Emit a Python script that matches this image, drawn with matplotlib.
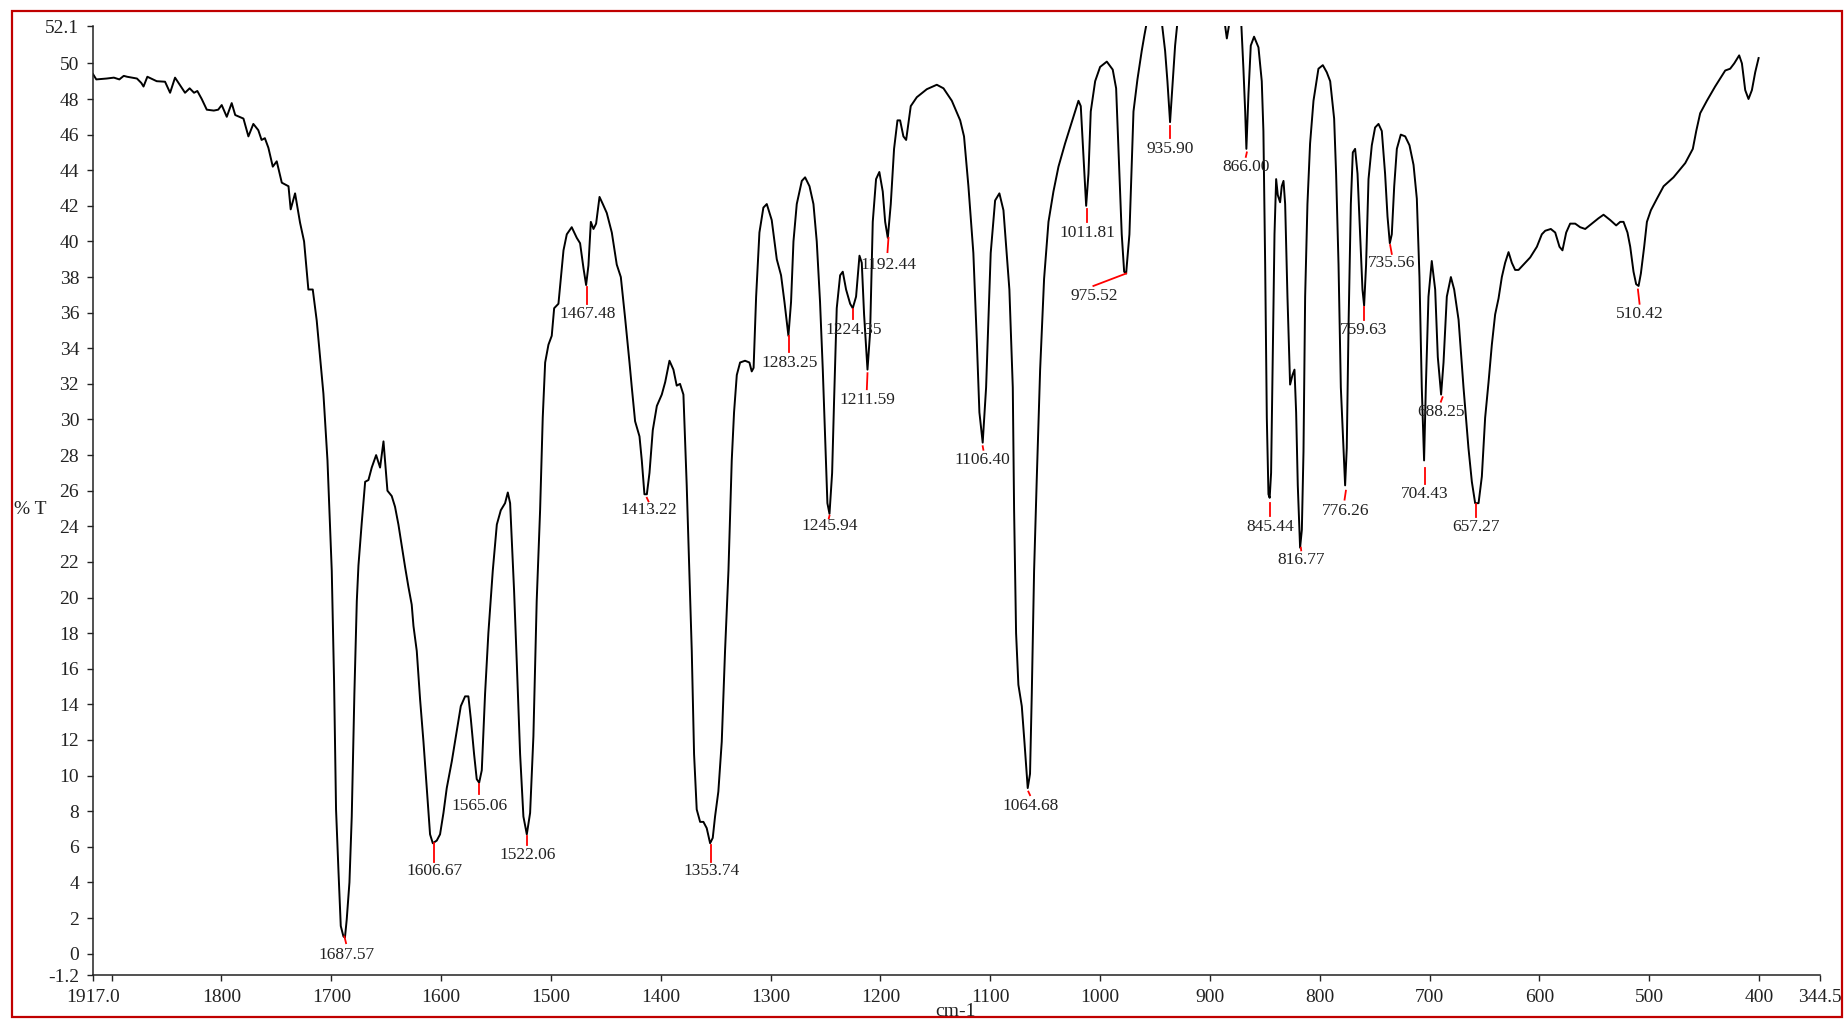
import matplotlib
matplotlib.use("Agg")
import matplotlib.pyplot as plt
from matplotlib.patches import Rectangle

# IR spectrum (wavenumber in cm-1, transmittance in %T)
wavenumber = [
    1917.0, 1914, 1904.5, 1898, 1893, 1889, 1886, 1877, 1873, 1871, 1867.5, 1859, 1851.4, 1846.8,
    1842.3, 1838, 1833.2, 1829, 1825, 1822, 1818, 1813.4, 1807, 1803, 1799.8, 1795.2, 1790.7,
    1787.5, 1780, 1775.5, 1771, 1766.5, 1763.5, 1760.5, 1757.3, 1753.3, 1749.7, 1745.1, 1739,
    1737, 1733, 1728.5, 1724.8, 1720.9, 1716.9, 1713.3, 1710.2, 1707.2, 1703.5, 1701.7, 1699.6,
    1697.5, 1695.7, 1693.5, 1691.4, 1689.0, 1687.6, 1686.0, 1683.5, 1681.4, 1679.0, 1676.8,
    1675.3, 1672.3, 1669.2, 1666.2, 1663.2, 1659.2, 1655.6, 1652.5, 1648.9, 1645, 1642, 1638.9,
    1635.9, 1632.8, 1629.8, 1626.8, 1625.2, 1622.2, 1619.2, 1616.1, 1613.1, 1610.1, 1607.6, 1604,
    1601, 1597.9, 1594.9, 1590.3, 1585.8, 1582.1, 1578.2, 1575.2, 1573, 1570, 1567.6, 1565.4,
    1563, 1560, 1557, 1553, 1549.3, 1545.7, 1541.8, 1539.3, 1537.2, 1533.6, 1531.1, 1528.1,
    1525.1, 1522.0, 1519, 1516, 1513, 1509.9, 1507.5, 1505.3, 1502.3, 1499.3, 1497.1, 1493.2,
    1488.6, 1485.6, 1481.1, 1476.5, 1473.5, 1470.4, 1468, 1465.9, 1463.7, 1461.3, 1458.9, 1455.8,
    1452.8, 1449.2, 1444.6, 1440.1, 1436.4, 1432.5, 1428.5, 1426.4, 1423.4, 1419.4, 1417.3,
    1414.9, 1412.7, 1410.3, 1407.3, 1403.6, 1399.1, 1396, 1392.1, 1388.5, 1385.5, 1382.5, 1379.4,
    1376.4, 1374, 1371.8, 1369.7, 1367.3, 1364.2, 1361.2, 1358.2, 1355.1, 1352.7, 1350.6, 1347.6,
    1344.5, 1341.5, 1338.4, 1335.4, 1333.3, 1330.8, 1327.8, 1323.3, 1319.3, 1317.2, 1315.5,
    1313.2, 1310.2, 1306.6, 1303.5, 1299, 1294.4, 1290.5, 1287.4, 1283.8, 1281.4, 1279.2, 1276.2,
    1271.6, 1268.6, 1264.6, 1261, 1258, 1255, 1252.5, 1250.4, 1248.3, 1246.4, 1244, 1242.2,
    1239.8, 1236.7, 1234.3, 1231.3, 1227.6, 1225.2, 1222.2, 1219.1, 1217, 1214.9, 1211.8, 1209.4,
    1207, 1204, 1201, 1197.9, 1195.7, 1193.3, 1190.6, 1187.6, 1184.5, 1182.1, 1179.1, 1176.6,
    1172.4, 1166.9, 1157.8, 1148.7, 1142.6, 1135, 1127.4, 1123.9, 1119.9, 1115.4, 1112.3, 1109.9,
    1106.9, 1103.8, 1099.6, 1095.6, 1091.7, 1088.0, 1082.6, 1079.5, 1078.3, 1076.5, 1074.4,
    1071.3, 1068.9, 1065.9, 1063.8, 1062.2, 1060.1, 1057.7, 1054.6, 1051, 1047, 1042.5, 1037.9,
    1031.9, 1025.8, 1019.7, 1017.6, 1015.2, 1012.7, 1010.6, 1008.5, 1004.5, 1000, 993.9, 988.5,
    985.4, 982.4, 980.3, 978.1, 976.3, 973.3, 969.6, 966, 962.1, 959.6, 957.5, 953, 947, 943.8,
    940.8, 938.7, 936.3, 933.8, 931.7, 929.6, 920, 900, 887, 884.6, 882.2, 878, 871.5, 869.5,
    867.9, 866.8, 864.9, 862.8, 859.8, 855.8, 852.8, 851.3, 849.7, 848.2, 846.7, 845.6, 844.3,
    842.8, 841.2, 839.7, 838.2, 836.1, 834.6, 833.0, 831.5, 829.4, 827, 824.8, 823, 821.5, 820,
    817.9, 816.3, 814.8, 813.3, 811.2, 808.8, 805.7, 801.2, 797.2, 793.6, 790.5, 786.9, 785.1,
    782.9, 780.8, 778.4, 776.9, 775.4, 773.8, 771.7, 769.9, 767.8, 765.6, 763.2, 761.1, 759.6,
    757.8, 755.6, 752.6, 749.6, 746.5, 743.5, 740.5, 738.3, 736.2, 734.4, 732.2, 729.8, 726.2,
    722.2, 718.3, 714.6, 711.6, 709.2, 707.1, 705.0, 703.4, 701, 698, 694.9, 692.5, 689.5, 687.3,
    684.3, 680.6, 677.6, 673.6, 669.1, 664.6, 661.5, 658.5, 655.4, 652.4, 649.4, 646.3, 643.3,
    640.3, 637.2, 634.2, 631.2, 628.1, 625.1, 622.1, 619, 614.5, 608.4, 602.3, 597.8, 594.7,
    589.6, 585.6, 581.7, 579, 575.6, 572, 567.4, 562.9, 558.3, 552.2, 546.2, 541.6, 535.5, 530.1,
    526.4, 523.4, 519.8, 517.3, 514.3, 511.9, 509.7, 507.6, 504.6, 502.1, 498.5, 493.0, 486.9,
    477.9, 467.2, 460.3, 457.2, 453.6, 447.5, 440, 433.8, 430.8, 426.3, 422.6, 418.1, 415.6,
    412.6, 409.6, 406.5, 403.5, 400.4,
]
transmittance = [
    49.4, 49.1, 49.15, 49.2, 49.1, 49.3, 49.25, 49.15, 48.9, 48.7, 49.25, 49.0, 48.97, 48.35,
    49.2, 48.8, 48.35, 48.6, 48.35, 48.45, 48.0, 47.4, 47.35, 47.4, 47.66, 47.0, 47.77,
    47.1, 46.9, 45.9, 46.6, 46.25, 45.7, 45.8, 45.26, 44.2, 44.5, 43.3, 43.1,
    41.8, 42.7, 41.06, 40.0, 37.3, 37.3, 35.56, 33.5, 31.45, 27.7, 24.9, 21.5,
    15.3, 8.1, 4.65, 1.55, 0.97, 0.9, 1.9, 4.0, 7.7, 14.6, 19.8,
    21.8, 24.2, 26.5, 26.6, 27.3, 28.0, 27.3, 28.77, 26.0, 25.7, 25.1, 24.1,
    22.9, 21.7, 20.6, 19.6, 18.4, 17.0, 14.3, 11.9, 9.3, 6.7, 6.2, 6.35,
    6.7, 7.9, 9.3, 10.8, 12.5, 13.9, 14.45, 14.45, 13.2, 11.2, 9.8, 9.6,
    10.3, 14.6, 18.0, 21.5, 24.1, 24.9, 25.3, 25.9, 25.3, 20.4, 16.3, 11.2,
    7.7, 6.7, 7.9, 12.2, 19.8, 24.9, 30.1, 33.2, 34.2, 34.7, 36.25, 36.5,
    39.5, 40.4, 40.8, 40.2, 39.9, 38.5, 37.55, 38.65, 41.1, 40.7, 41.0, 42.5,
    42.1, 41.6, 40.5, 38.7, 38.0, 35.7, 33.2, 31.8, 29.9, 29.05, 27.7,
    25.8, 25.8, 27.0, 29.4, 30.76, 31.4, 32.1, 33.3, 32.8, 31.9, 32.0, 31.4,
    26.3, 21.5, 17.0, 11.2, 8.1, 7.4, 7.4, 7.05, 6.2, 6.5, 7.7, 9.1,
    11.9, 17.0, 21.5, 27.7, 30.4, 32.5, 33.2, 33.3, 33.2, 32.7, 32.9,
    36.9, 40.5, 41.9, 42.1, 41.2, 39.0, 38.1, 36.6, 34.7, 36.6, 40.0, 42.1,
    43.4, 43.6, 43.1, 42.1, 40.0, 36.6, 32.8, 29.0, 25.3, 24.7, 27.0, 31.1,
    36.25, 38.1, 38.3, 37.3, 36.5, 36.25, 36.9, 39.2, 38.8, 35.9, 32.8, 34.9,
    41.1, 43.5, 43.9, 42.8, 41.1, 40.2, 42.1, 45.2, 46.8, 46.8, 45.9, 45.7,
    47.6, 48.1, 48.55, 48.8, 48.6, 47.9, 46.8, 45.9, 43.1, 39.35, 34.5, 30.4,
    28.7, 31.8, 39.35, 42.3, 42.7, 41.75, 37.3, 31.8, 24.9, 18.0, 15.1,
    13.9, 11.9, 9.3, 10.1, 14.6, 21.5, 26.6, 32.8, 37.9, 41.1, 42.8, 44.2,
    45.5, 46.7, 47.9, 47.6, 44.9, 42.0, 43.8, 47.3, 49.0, 49.8, 50.1, 49.65,
    48.6, 43.8, 40.4, 38.3, 38.2, 40.4, 47.3, 49.1, 50.7, 51.6, 52.3, 54.0, 54.0, 52.3,
    50.7, 49.0, 46.7, 49.0, 51.0, 52.3, 55.0, 55.0, 52.5, 51.4, 52.3, 54.0, 52.3, 49.7,
    47.3, 45.2, 48.3, 51.0, 51.5, 50.9, 49.0, 46.2, 38.7, 30.1, 25.8, 25.6, 27.0,
    33.5, 40.4, 43.5, 42.6, 42.2, 43.1, 43.4, 42.1, 36.9, 31.96, 32.5, 32.8, 30.4, 26.3,
    22.8, 23.8, 28.2, 36.9, 42.1, 45.5, 47.9, 49.7, 49.9, 49.5, 49.0, 46.9, 43.8,
    38.7, 31.8, 28.4, 26.3, 28.4, 35.2, 42.1, 45.0, 45.2, 43.8, 40.4, 37.3, 36.4,
    38.7, 43.5, 45.4, 46.4, 46.6, 46.2, 43.8, 41.4, 39.9, 40.4, 43.1, 45.2, 46.0,
    45.9, 45.4, 44.3, 42.4, 38.0, 31.8, 27.7, 31.8, 36.9, 38.9, 37.3, 33.5, 31.4, 33.2,
    36.9, 38.0, 37.3, 35.6, 31.8, 28.4, 26.5, 25.3, 25.3, 26.8, 30.1, 32.1, 34.2,
    35.9, 36.8, 38.0, 38.8, 39.4, 38.8, 38.4, 38.4, 38.7, 39.1, 39.7, 40.4, 40.6,
    40.7, 40.5, 39.7, 39.5, 40.5, 41.0, 41.0, 40.8, 40.7, 41.0, 41.3, 41.5, 41.2, 40.9,
    41.1, 41.1, 40.5, 39.7, 38.3, 37.6, 37.5, 38.2, 39.7, 41.1, 41.75, 42.4, 43.1,
    43.6, 44.4, 45.2, 46.2, 47.2, 47.9, 48.7, 49.3, 49.6, 49.7, 50.0, 50.45, 50.0,
    48.5, 48.0, 48.5, 49.5, 50.3,
]

# peak labels: text, red marker line (x1, y1, x2, y2), text centre (x, y)
peak_labels = ["1687.57", "1606.67", "1565.06", "1522.06", "1467.48", "1413.22", "1353.74",
               "1283.25", "1245.94", "1224.35", "1211.59", "1192.44", "1106.40", "1064.68",
               "1011.81", "975.52", "935.90", "866.00", "845.44", "816.77", "776.26",
               "759.63", "735.56", "704.43", "688.25", "657.27", "510.42"]
marker_lines = [
    (1688.1, 0.97, 1686.6, 0.59), (1606.5, 6.2, 1606.5, 5.15), (1565.4, 9.5, 1565.4, 8.95),
    (1521.9, 6.6, 1521.9, 6.1), (1467.4, 37.45, 1467.4, 36.5), (1412.7, 25.6, 1411.2, 25.4),
    (1354.5, 6.1, 1354.5, 5.15), (1282.9, 34.7, 1282.9, 33.8), (1246.4, 24.6, 1247.0, 24.45),
    (1224.6, 36.2, 1224.6, 35.65), (1211.8, 32.6, 1212.4, 31.7), (1192.7, 40.2, 1193.6, 39.4),
    (1106.9, 28.5, 1106.3, 28.3), (1065.3, 9.1, 1063.8, 8.9), (1012.1, 41.8, 1012.1, 41.1),
    (976.3, 38.2, 1006.1, 37.5), (936.3, 46.5, 936.3, 45.8), (866.4, 45.0, 867.3, 44.75),
    (844.9, 25.3, 844.9, 24.6), (817.2, 22.8, 816.9, 22.65), (776.2, 26.0, 777.4, 25.5),
    (759.6, 36.3, 759.6, 35.6), (735.9, 39.8, 734.4, 39.3), (704.3, 27.25, 704.3, 26.4),
    (688.2, 31.25, 689.7, 31.0), (657.6, 25.25, 657.6, 24.5), (510.3, 37.3, 508.8, 36.5),
]
label_pos = [
    (1686.0, -0.05), (1606.4, 4.65), (1565.1, 8.3), (1521.4, 5.55), (1466.8, 35.95),
    (1410.9, 24.9), (1353.6, 4.65), (1282.9, 33.2), (1246.4, 24.0), (1224.0, 35.05),
    (1211.8, 31.1), (1192.7, 38.7), (1106.9, 27.7), (1063.1, 8.3), (1011.5, 40.5),
    (1005.5, 36.95), (936.3, 45.2), (866.8, 44.2), (844.9, 23.95), (816.9, 22.1),
    (776.8, 24.85), (760.2, 35.05), (734.4, 38.8), (704.3, 25.8), (689.7, 30.4),
    (657.6, 23.95), (508.2, 35.9),
]

x_ticks = [1917.0, 1900, 1800, 1700, 1600, 1500, 1400, 1300, 1200, 1100, 1000,
           900, 800, 700, 600, 500, 400, 344.5]
x_labels = ["1917.0", "", "1800", "1700", "1600", "1500", "1400", "1300", "1200", "1100",
            "1000", "900", "800", "700", "600", "500", "400", "344.5"]
y_ticks = [52.1] + list(range(50, -1, -2)) + [-1.2]
y_labels = ["52.1"] + [str(v) for v in range(50, -1, -2)] + ["-1.2"]

plt.rcParams['font.family'] = ['Liberation Serif', 'DejaVu Serif']

fig = plt.figure(figsize=(18.46, 10.21), dpi=100)
ax = fig.add_axes([93 / 1846, 1 - 975 / 1021, (1820 - 93) / 1846, (975 - 26) / 1021])

ax.plot(wavenumber, transmittance, color='black', lw=1.4)

for text, (x1, y1, x2, y2), (tx, ty) in zip(peak_labels, marker_lines, label_pos):
    ax.plot([x1, x2], [y1, y2], color='red', lw=1.3)
    ax.text(tx, ty, text, ha='center', va='center', fontsize=12.5, color='#222222')

ax.set_xlim(1917.0, 344.5)
ax.set_ylim(-1.2, 52.1)
ax.set_xticks(x_ticks)
ax.set_xticklabels(x_labels)
ax.set_yticks(y_ticks)
ax.set_yticklabels(y_labels)
ax.tick_params(axis='both', direction='out', length=4, width=1, labelsize=14,
               colors='#222222', pad=6)
for side in ['top', 'right']:
    ax.spines[side].set_visible(False)
for side in ['left', 'bottom']:
    ax.spines[side].set_linewidth(1.1)
    ax.spines[side].set_color('#222222')

fig.text(30 / 1846, 1 - 509 / 1021, "% T", ha='center', va='center', fontsize=14,
         color='#222222')
fig.text(956 / 1846, 1 - 1011 / 1021, "cm-1", ha='center', va='center', fontsize=14,
         color='#222222')

# red frame round the whole figure
fig.patches.append(Rectangle((12 / 1846, 1 - 1017 / 1021), 1830 / 1846, 1006 / 1021,
                             transform=fig.transFigure, fill=False, edgecolor='#c00000',
                             lw=1.6))

fig.savefig("out.png", dpi=100)
